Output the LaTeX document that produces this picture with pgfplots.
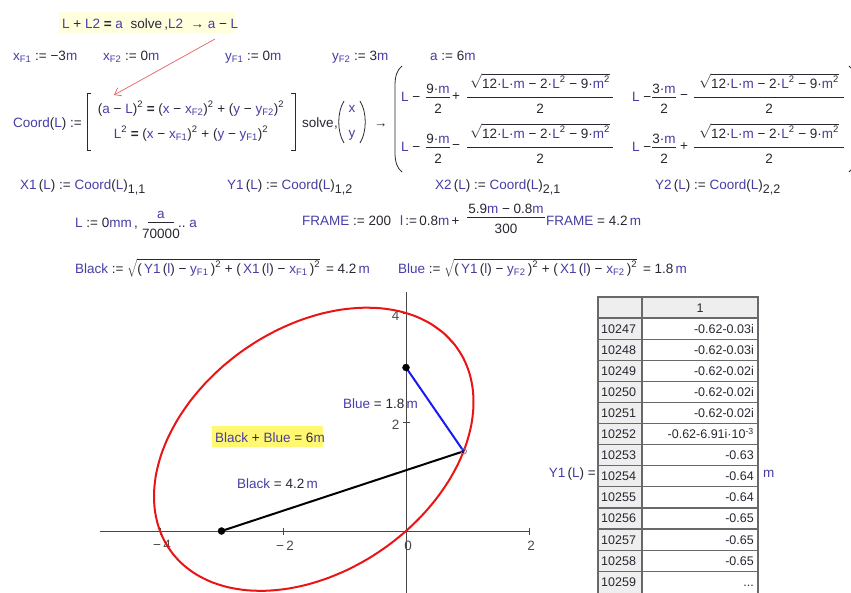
\documentclass[border=0pt]{standalone}
\usepackage{pgfplots}
\pgfplotsset{compat=1.18}
\usepackage{fontspec}
\setmainfont{Liberation Sans}
\usetikzlibrary{arrows.meta}

\definecolor{mv}{RGB}{70,62,165}
\definecolor{mk}{RGB}{40,40,50}
\definecolor{hlA}{RGB}{255,255,222}
\definecolor{hlB}{RGB}{255,248,112}
\definecolor{cellgray}{RGB}{238,238,238}
\definecolor{gridgray}{RGB}{105,105,105}
\definecolor{axgray}{RGB}{70,70,70}
\definecolor{tickgray}{RGB}{75,75,75}
\definecolor{curvered}{RGB}{235,20,20}
\definecolor{segblue}{RGB}{25,25,245}
\definecolor{pointer}{RGB}{235,95,95}

\newcommand\V[1]{\textcolor{mv}{#1}}
\newcommand\sq{\textsuperscript{2}}
\newcommand\sub[1]{\textsubscript{#1}}
\newcommand\eq{\textbf{=}}
\newcommand\Rad{$\sqrt{\hbox{12·\V{L}·\V{m} − 2·\V{L}\sq{} − 9·\V{m}\sq}}$}
% fraction: x, bar y, half width, numerator, denominator, numerator lift
\newcommand\Frac[6]{%
  \node[anchor=base] at (#1,#2-#6) {#4};
  \draw[mk,line width=0.7pt] (#1-#3,#2) -- (#1+#3,#2);
  \node[anchor=base] at (#1,#2+16) {#5};}

\begin{document}
\begin{tikzpicture}[x=1pt, y=-1pt,
  every node/.style={inner sep=0pt, text=mk, font=\fontsize{13.5}{16}\selectfont}]
\useasboundingbox (0,0) rectangle (851,592);
\fill[white] (0,0) rectangle (851,592);

% ---------- locus of the moving point ----------
\begin{scope}[x=1pt, y=1pt]
\begin{axis}[
  at={(99.73pt,-593.13pt)}, anchor=south west,
  x=61.5pt, y=54.5pt,
  xmin=-4.98, xmax=2, ymin=-1.14, ymax=4.39,
  axis lines=middle,
  axis line style={-, draw=axgray, line width=0.9pt},
  xtick={-4,-2,0,2}, ytick={2,4},
  xticklabels={−\,4,−\,2,0,2},
  yticklabels={2,4},
  hide obscured x ticks=false, hide obscured y ticks=false,
  tick align=center, major tick length=7pt,
  tick style={draw=axgray, line width=0.9pt},
  ticklabel style={font=\fontsize{13.5}{16}\selectfont, text=tickgray, inner sep=0pt},
  xticklabel style={anchor=north, yshift=-6pt, xshift=2pt},
  yticklabel style={anchor=east, xshift=-3pt, yshift=-3pt},
  clip=false,
]
% ellipse with foci (-3,0) and (0,3), distance sum 6
\addplot[curvered, line width=2pt, smooth] coordinates {
  (0.7990,3.4074)
  (0.6213,3.6213) (0.4074,3.7990) (0.1608,3.9372) (-0.1142,4.0338)
  (-0.4129,4.0871) (-0.7302,4.0960) (-1.0607,4.0607) (-1.3986,3.9814)
  (-1.7383,3.8597) (-2.0740,3.6976) (-2.3999,3.4979) (-2.7103,3.2641)
  (-3.0,3.0) (-3.2641,2.7103) (-3.4979,2.3999) (-3.6976,2.0740)
  (-3.8597,1.7383) (-3.9814,1.3986) (-4.0607,1.0607) (-4.0960,0.7302)
  (-4.0871,0.4129) (-4.0338,0.1142) (-3.9372,-0.1608) (-3.7990,-0.4074)
  (-3.6213,-0.6213) (-3.4074,-0.7990) (-3.1608,-0.9372) (-2.8858,-1.0338)
  (-2.5871,-1.0871) (-2.2698,-1.0960) (-1.9393,-1.0607) (-1.6014,-0.9814)
  (-1.2617,-0.8597) (-0.9260,-0.6976) (-0.6001,-0.4979) (-0.2897,-0.2641)
  (0.0,0.0) (0.2641,0.2897) (0.4979,0.6001) (0.6976,0.9260)
  (0.8597,1.2617) (0.9814,1.6014) (1.0607,1.9393) (1.0960,2.2698)
  (1.0871,2.5871) (1.0338,2.8858) (0.9372,3.1608) (0.7990,3.4074)
  (0.6213,3.6213) (0.4074,3.7990)
};
\addplot[black, line width=2pt] coordinates {(-3,0) (0.937,1.463)};
\addplot[segblue, line width=2pt] coordinates {(0,3) (0.937,1.463)};
\addplot[only marks, mark=*, mark size=3.5pt, black] coordinates {(-3,0) (0,3)};
\addplot[only marks, mark=o, mark size=2.8pt, gray, mark options={line width=0.8pt}] coordinates {(0.937,1.463)};
\end{axis}
\end{scope}

% ---------- worksheet text ----------
\fill[hlA] (59,12) rectangle (235,33);
\node[anchor=base west] at (62,28) {\V{L} + \V{L2} \eq{} \V{a} \ solve\,,\V{L2} \ → \V{a} − \V{L}};
\draw[pointer, line width=0.7pt, -{Straight Barb[length=6pt,width=9pt]}] (215,39) -- (114,95);

\node[anchor=base west] at (13,60) {\V{x\sub{F1}} := −3\V{m}};
\node[anchor=base west] at (103,60) {\V{x\sub{F2}} := 0\V{m}};
\node[anchor=base west] at (225,60) {\V{y\sub{F1}} := 0\V{m}};
\node[anchor=base west] at (332,60) {\V{y\sub{F2}} := 3\V{m}};
\node[anchor=base west] at (430,60) {\V{a} := 6\V{m}};

\node[anchor=base west] at (13,127) {\V{Coord}(\V{L}) :=};
\draw[mk, line width=0.8pt] (91,93) -- (87,93) -- (87,150) -- (91,150);
\draw[mk, line width=0.8pt] (291,93) -- (295,93) -- (295,150) -- (291,150);
\node[anchor=base] at (191,113) {(\V{a} − \V{L})\sq{} \eq{} (\V{x} − \V{x\sub{F2}})\sq{} + (\V{y} − \V{y\sub{F2}})\sq};
\node[anchor=base] at (191,138) {\V{L}\sq{} \eq{} (\V{x} − \V{x\sub{F1}})\sq{} + (\V{y} − \V{y\sub{F1}})\sq};
\node[anchor=base west] at (302,127) {solve\kern0.5pt,};
\draw[mk, line width=0.8pt] (344,101) .. controls (337,112) and (337,132) .. (344,143);
\draw[mk, line width=0.8pt] (360,101) .. controls (367,112) and (367,132) .. (360,143);
\node[anchor=base] at (352,112) {\V{x}};
\node[anchor=base] at (352,137) {\V{y}};
\node[anchor=base west] at (374,127) {→};

% symbolic solution
\draw[mk, line width=0.8pt] (402,66) .. controls (397,70) and (395,76) .. (395,86) -- (395,152)
  .. controls (395,162) and (397,168) .. (402,172);
\draw[mk, line width=0.8pt] (849,66) .. controls (854,70) and (856,76) .. (856,86) -- (856,152)
  .. controls (856,162) and (854,168) .. (849,172);
\node[anchor=west] at (401,97) {\V{L} −};
\Frac{438}{97}{12}{9·\V{m}}{2}{4}
\node at (456,97) {+};
\Frac{540}{97}{73}{\Rad}{2}{9}
\node[anchor=west] at (632,97) {\V{L} −};
\Frac{664}{97}{12}{3·\V{m}}{2}{4}
\node at (684,97) {−};
\Frac{769}{97}{75}{\Rad}{2}{9}

\node[anchor=west] at (401,147) {\V{L} −};
\Frac{438}{147}{12}{9·\V{m}}{2}{4}
\node at (456,147) {−};
\Frac{540}{147}{73}{\Rad}{2}{9}
\node[anchor=west] at (632,147) {\V{L} −};
\Frac{664}{147}{12}{3·\V{m}}{2}{4}
\node at (684,147) {+};
\Frac{769}{147}{75}{\Rad}{2}{9}

% components
\node[anchor=base west] at (20,189) {\V{X1}\,(\V{L}) := \V{Coord}(\V{L})\raisebox{-4pt}{\fontsize{12.5}{12}\selectfont 1,1}};
\node[anchor=base west] at (227,189) {\V{Y1}\,(\V{L}) := \V{Coord}(\V{L})\raisebox{-4pt}{\fontsize{12.5}{12}\selectfont 1,2}};
\node[anchor=base west] at (435,189) {\V{X2}\,(\V{L}) := \V{Coord}(\V{L})\raisebox{-4pt}{\fontsize{12.5}{12}\selectfont 2,1}};
\node[anchor=base west] at (655,189) {\V{Y2}\,(\V{L}) := \V{Coord}(\V{L})\raisebox{-4pt}{\fontsize{12.5}{12}\selectfont 2,2}};

% ranges
\node[anchor=base west] at (75,227) {\V{L} := 0\V{mm}\,,};
\Frac{161}{222}{13}{\V{a}}{70000}{4}
\node[anchor=base west] at (178,227) {..\ \V{a}};
\node[anchor=base west] at (302,225) {\V{FRAME} := 200};
\node[anchor=base west] at (400,225) {\V{l}\,:=\,0.8\V{m}\,+};
\Frac{506}{217}{39}{5.9\V{m} − 0.8\V{m}}{300}{4}
\node[anchor=base west] at (546,225) {\V{FRAME} = 4.2\,\V{m}};

% segment lengths
\node[anchor=base west] at (75,273) {\V{Black} := $\sqrt{\hbox{(\,\V{Y1}\,(\V{l}) − \V{y\sub{F1}}\,)\sq{} + (\,\V{X1}\,(\V{l}) − \V{x\sub{F1}}\,)\sq}}$\, = 4.2\,\V{m}};
\node[anchor=base west] at (398,273) {\V{Blue} := $\sqrt{\hbox{(\,\V{Y1}\,(\V{l}) − \V{y\sub{F2}}\,)\sq{} + (\,\V{X1}\,(\V{l}) − \V{x\sub{F2}}\,)\sq}}$\, = 1.8\,\V{m}};

% labels on the plot
\node[anchor=base west] at (343,408) {\V{Blue} = 1.8\,\V{m}};
\fill[hlB] (212,426) rectangle (323,447);
\node[anchor=base west] at (215,442) {\V{Black} + \V{Blue} = 6\V{m}};
\node[anchor=base west] at (237,488) {\V{Black} = 4.2\,\V{m}};

% ---------- table of Y1(L) ----------
\node[anchor=base east] at (596,477) {\V{Y1}\,(\V{L}) =};
\node[anchor=base west] at (763,477) {\V{m}};
\fill[cellgray] (598,297) rectangle (758,318);
\fill[cellgray] (598,318) rectangle (642,596);
\draw[gridgray, line width=1.2pt] (598,297) rectangle (758,598);
\draw[gridgray, line width=1.2pt] (642,297) -- (642,598);
\foreach \k in {0,...,12} \draw[gridgray, line width=1.2pt] (598,318+21.1*\k) -- (758,318+21.1*\k);
\node[anchor=base, font=\fontsize{12.5}{15}\selectfont] at (700,312) {1};
\foreach \k/\n/\v in {0/10247/{-0.62-0.03i}, 1/10248/{-0.62-0.03i}, 2/10249/{-0.62-0.02i},
    3/10250/{-0.62-0.02i}, 4/10251/{-0.62-0.02i}, 5/10252/{-0.62-6.91i·10\textsuperscript{-3}},
    6/10253/{-0.63}, 7/10254/{-0.64}, 8/10255/{-0.64}, 9/10256/{-0.65},
    10/10257/{-0.65}, 11/10258/{-0.65}, 12/10259/{...}} {
  \node[anchor=base west, font=\fontsize{12.5}{15}\selectfont] at (601,333+21.1*\k) {\n};
  \node[anchor=base east, font=\fontsize{12.5}{15}\selectfont] at (754,333+21.1*\k) {\v};
}
\end{tikzpicture}
\end{document}
